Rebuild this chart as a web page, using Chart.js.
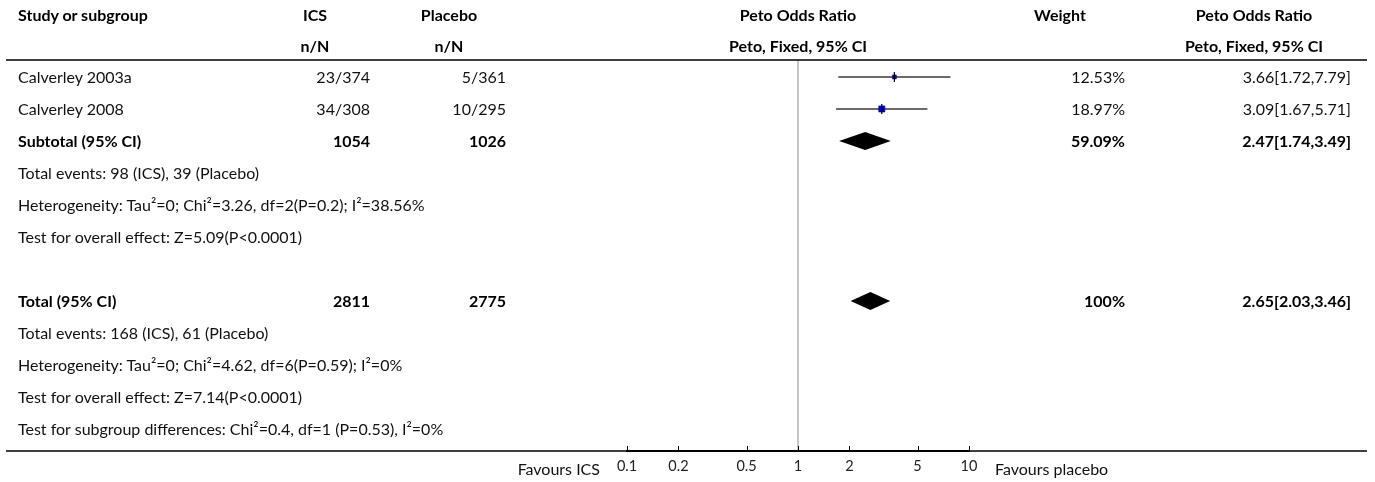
<!DOCTYPE html>
<html>
<head>
<meta charset="utf-8">
<script src="https://cdn.jsdelivr.net/npm/chart.js@4.4.1/dist/chart.umd.min.js"></script>
<style>
  html, body { margin: 0; padding: 0; background: #fff; }
  #wrap { position: relative; width: 1375px; height: 482px; overflow: hidden; font-family: Lato, sans-serif; color: #111; }
  #forest { position: absolute; left: 0; top: 0; }
  .t { position: absolute; white-space: nowrap; font-size: 16px; line-height: 20px; }
  .b { font-weight: bold; color: #000; }
</style>
</head>
<body>
<div id="wrap"><canvas id="forest" width="1375" height="482"></canvas></div>
<script>
// study rows
const studies = ['Calverley 2003a', 'Calverley 2008'];
const icsEvents = ['23/374', '34/308'];
const placeboEvents = ['5/361', '10/295'];
const weights = [12.53, 18.97];
const oddsRatio = [3.66, 3.09];
const ciLower = [1.72, 1.67];
const ciUpper = [7.79, 5.71];

// pooled rows (subtotal, total)
const summaryLabels = ['Subtotal (95% CI)', 'Total (95% CI)'];
const summaryRows = [2, 7];
const summaryIcs = [1054, 2811];
const summaryPlacebo = [1026, 2775];
const summaryWeights = ['59.09%', '100%'];
const summaryOR = [2.47, 2.65];
const summaryLower = [1.74, 2.03];
const summaryUpper = [3.49, 3.46];

const subgroupNotes = [
    'Total events: 98 (ICS), 39 (Placebo)',
    'Heterogeneity: Tau\u00b2=0; Chi\u00b2=3.26, df=2(P=0.2); I\u00b2=38.56%',
    'Test for overall effect: Z=5.09(P<0.0001)'
];
const totalNotes = [
    'Total events: 168 (ICS), 61 (Placebo)',
    'Heterogeneity: Tau\u00b2=0; Chi\u00b2=4.62, df=6(P=0.59); I\u00b2=0%',
    'Test for overall effect: Z=7.14(P<0.0001)',
    'Test for subgroup differences: Chi\u00b2=0.4, df=1 (P=0.53), I\u00b2=0%'
];

const tickValues = [0.1, 0.2, 0.5, 1, 2, 5, 10];

const W = 1375;
const wrap = document.getElementById('wrap');

function fmt(v) { return v.toFixed(2); }

function addText(str, x, y, align, bold) {
    const d = document.createElement('div');
    d.className = 't' + (bold ? ' b' : '');
    d.textContent = str;
    if (align === 'right') {
        d.style.right = (W - x) + 'px';
    } else if (align === 'center') {
        d.style.left = (x - 150) + 'px';
        d.style.width = '300px';
        d.style.textAlign = 'center';
    } else {
        d.style.left = x + 'px';
    }
    d.style.top = (y - 10) + 'px';
    wrap.appendChild(d);
}

const forestDecor = {
    id: 'forestDecor',
    beforeDatasetsDraw(chart) {
        const { ctx, chartArea, scales } = chart;
        const x1 = scales.x.getPixelForValue(1);
        ctx.save();
        // line of no effect
        ctx.strokeStyle = '#a0a0a0';
        ctx.lineWidth = 1.2;
        ctx.beginPath();
        ctx.moveTo(x1, chartArea.top);
        ctx.lineTo(x1, chartArea.bottom);
        ctx.stroke();
        // header rule and bottom rule
        ctx.strokeStyle = '#000';
        ctx.lineWidth = 1.5;
        ctx.beginPath();
        ctx.moveTo(6, chartArea.top);
        ctx.lineTo(1367, chartArea.top);
        ctx.moveTo(6, chartArea.bottom);
        ctx.lineTo(1367, chartArea.bottom);
        ctx.stroke();
        ctx.restore();
    },
    afterDatasetsDraw(chart) {
        const { ctx, chartArea, scales } = chart;
        ctx.save();
        // pooled diamonds
        ctx.fillStyle = '#000';
        summaryRows.forEach((row, i) => {
            const y = scales.y.getPixelForValue(row);
            const h = 9;
            ctx.beginPath();
            ctx.moveTo(scales.x.getPixelForValue(summaryLower[i]), y);
            ctx.lineTo(scales.x.getPixelForValue(summaryOR[i]), y - h);
            ctx.lineTo(scales.x.getPixelForValue(summaryUpper[i]), y);
            ctx.lineTo(scales.x.getPixelForValue(summaryOR[i]), y + h);
            ctx.closePath();
            ctx.fill();
        });
        // upward tick marks
        ctx.strokeStyle = '#000';
        ctx.lineWidth = 1;
        ctx.beginPath();
        tickValues.forEach(v => {
            const x = Math.round(scales.x.getPixelForValue(v)) + 0.5;
            ctx.moveTo(x, chartArea.bottom);
            ctx.lineTo(x, chartArea.bottom - 5);
        });
        ctx.stroke();
        ctx.restore();
    }
};

const ciSets = studies.map((s, i) => ({
    label: s + ' CI',
    data: [{ x: ciLower[i], y: i }, { x: ciUpper[i], y: i }],
    showLine: true,
    borderColor: '#3a3a3a',
    borderWidth: 1.5,
    pointRadius: 0,
    order: 2
}));

const chart = new Chart(document.getElementById('forest').getContext('2d'), {
    type: 'scatter',
    data: {
        datasets: [
            {
                label: 'marks',
                data: oddsRatio.map((v, i) => ({ x: v, y: i })),
                pointStyle: 'line',
                rotation: 90,
                pointRadius: 5,
                borderColor: '#000',
                borderWidth: 1.2,
                order: 0
            },
            {
                label: 'estimates',
                data: oddsRatio.map((v, i) => ({ x: v, y: i })),
                pointStyle: 'rect',
                pointRadius: weights.map(w => w * 0.23),
                backgroundColor: '#0000cc',
                borderColor: '#00008a',
                borderWidth: 0.5,
                order: 1
            },
            ...ciSets
        ]
    },
    options: {
        responsive: false,
        animation: false,
        devicePixelRatio: 1,
        layout: { padding: { left: 627, right: 406, top: 60, bottom: 0 } },
        plugins: { legend: { display: false }, tooltip: { enabled: false } },
        scales: {
            x: {
                type: 'logarithmic',
                min: 0.1,
                max: 10,
                afterBuildTicks: s => { s.ticks = tickValues.map(v => ({ value: v })); },
                afterFit: s => { s.height = 31; },
                ticks: {
                    autoSkip: false,
                    maxRotation: 0,
                    padding: 7,
                    color: '#222',
                    font: { family: 'Lato', size: 14.5 },
                    callback: (v, i) => String(tickValues[i])
                },
                grid: { display: false, drawTicks: false },
                border: { display: true, color: '#000', width: 2 }
            },
            y: {
                type: 'linear',
                min: -0.53,
                max: 11.69,
                reverse: true,
                display: false
            }
        }
    },
    plugins: [forestDecor]
});

// table text, positioned from the chart's own y scale
const ys = chart.scales.y;
const rowY = r => ys.getPixelForValue(r);
const x1 = chart.scales.x.getPixelForValue(1);
const head1 = 15, head2 = 46;

addText('Study or subgroup', 18, head1, 'left', true);
addText('ICS', 315, head1, 'center', true);
addText('n/N', 315, head2, 'center', true);
addText('Placebo', 449, head1, 'center', true);
addText('n/N', 449, head2, 'center', true);
addText('Peto Odds Ratio', x1, head1, 'center', true);
addText('Peto, Fixed, 95% CI', x1, head2, 'center', true);
addText('Weight', 1060, head1, 'center', true);
addText('Peto Odds Ratio', 1254, head1, 'center', true);
addText('Peto, Fixed, 95% CI', 1254, head2, 'center', true);

studies.forEach((s, i) => {
    const y = rowY(i);
    addText(s, 18, y, 'left', false);
    addText(icsEvents[i], 370, y, 'right', false);
    addText(placeboEvents[i], 506, y, 'right', false);
    addText(fmt(weights[i]) + '%', 1125, y, 'right', false);
    addText(`${fmt(oddsRatio[i])}[${fmt(ciLower[i])},${fmt(ciUpper[i])}]`, 1351, y, 'right', false);
});

summaryRows.forEach((row, i) => {
    const y = rowY(row);
    addText(summaryLabels[i], 18, y, 'left', true);
    addText(String(summaryIcs[i]), 370, y, 'right', true);
    addText(String(summaryPlacebo[i]), 506, y, 'right', true);
    addText(summaryWeights[i], 1125, y, 'right', true);
    addText(`${fmt(summaryOR[i])}[${fmt(summaryLower[i])},${fmt(summaryUpper[i])}]`, 1351, y, 'right', true);
});

subgroupNotes.forEach((n, i) => addText(n, 18, rowY(3 + i), 'left', false));
totalNotes.forEach((n, i) => addText(n, 18, rowY(8 + i), 'left', false));

const axisY = chart.chartArea.bottom + 18;
addText('Favours ICS', 600, axisY, 'right', false);
addText('Favours placebo', 995, axisY, 'left', false);
</script>
</body>
</html>
